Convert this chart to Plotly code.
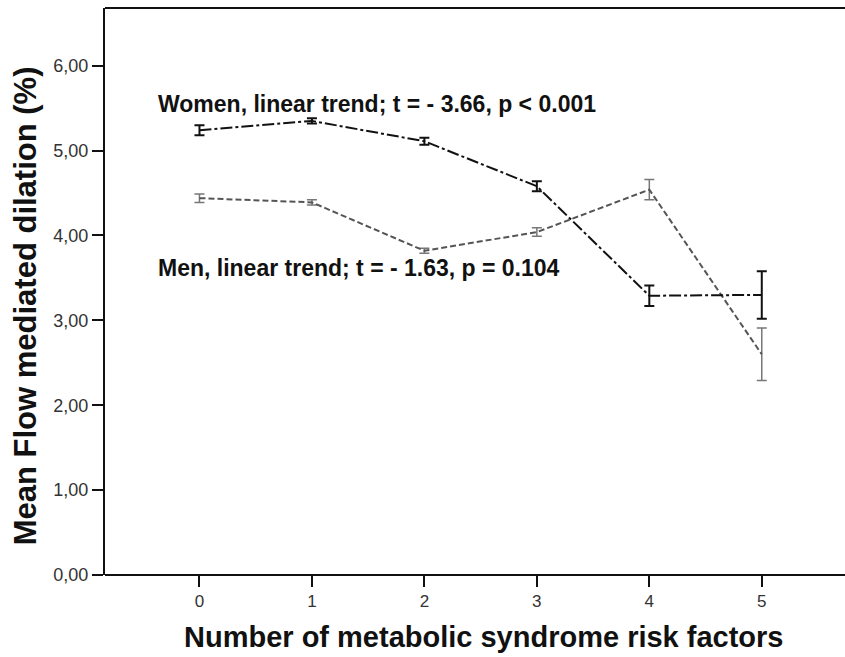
import plotly.graph_objects as go

x_cats = [0, 1, 2, 3, 4, 5]
women_mean = [5.24, 5.35, 5.11, 4.58, 3.29, 3.30]
women_err = [0.06, 0.03, 0.04, 0.06, 0.12, 0.28]
men_mean = [4.44, 4.39, 3.82, 4.04, 4.54, 2.60]
men_err = [0.05, 0.03, 0.03, 0.05, 0.12, 0.31]
y_ticks = [0, 1, 2, 3, 4, 5, 6]

FONT = "Liberation Sans, Arial"

fig = go.Figure()
fig.add_trace(go.Scatter(
    x=x_cats, y=men_mean, mode="lines",
    line=dict(color="#555555", width=2, dash="6px,3px"),
    error_y=dict(type="data", array=men_err, visible=True, color="#777777", thickness=1.5, width=5),
    showlegend=False))
fig.add_trace(go.Scatter(
    x=x_cats, y=women_mean, mode="lines",
    line=dict(color="#111111", width=2, dash="12px,3px,3px,3px"),
    error_y=dict(type="data", array=women_err, visible=True, color="#111111", thickness=2, width=5),
    showlegend=False))

fig.add_annotation(x=-0.39, y=5.55, xref="x", yref="y", xanchor="left", yanchor="middle",
                   text="<b>Women, linear trend; t = - 3.66, p < 0.001</b>", showarrow=False,
                   font=dict(family=FONT, size=23, color="#111111"))
fig.add_annotation(x=-0.39, y=3.62, xref="x", yref="y", xanchor="left", yanchor="middle",
                   text="<b>Men, linear trend; t = - 1.63, p = 0.104</b>", showarrow=False,
                   font=dict(family=FONT, size=23, color="#111111"))
fig.add_annotation(x=0.512, y=-0.109, xref="paper", yref="paper", xanchor="center", yanchor="middle",
                   text="<b>Number of metabolic syndrome risk factors</b>", showarrow=False,
                   font=dict(family=FONT, size=29, color="#111111"))
fig.add_annotation(x=-0.108, y=0.474, xref="paper", yref="paper", xanchor="center", yanchor="middle",
                   text="<b>Mean Flow mediated dilation (%)</b>", showarrow=False, textangle=-90,
                   font=dict(family=FONT, size=31, color="#111111"))

# top frame line
fig.add_shape(type="line", xref="paper", yref="paper", x0=0, x1=1.05, y0=1, y1=1,
              line=dict(color="#111111", width=2))
fig.add_shape(type="line", xref="paper", yref="paper", x0=0, x1=1.05, y0=0, y1=0,
              line=dict(color="#111111", width=2))

fig.update_layout(
    width=845, height=657,
    margin=dict(l=105, r=0, t=8, b=82, autoexpand=False),
    paper_bgcolor="white", plot_bgcolor="white",
    separators=",.",
    font=dict(family=FONT, color="#222222"),
    xaxis=dict(range=[-0.84, 5.74], tickvals=x_cats, ticks="outside", ticklen=11, tickwidth=2,
               tickcolor="#111111", showline=False,
               showgrid=False, zeroline=False, automargin=False,
               tickfont=dict(size=17, color="#333333")),
    yaxis=dict(range=[0, 6.68], tickvals=y_ticks, tickformat=".2f", ticks="outside", ticklen=11,
               tickwidth=2, tickcolor="#111111", showline=True, linecolor="#111111", linewidth=2,
               showgrid=False, zeroline=False, automargin=False,
               tickfont=dict(size=18, color="#333333")),
)
fig.write_html("out.html", config={"displayModeBar": False},
               post_script="document.body.style.margin='0';document.body.style.overflow='hidden';")
